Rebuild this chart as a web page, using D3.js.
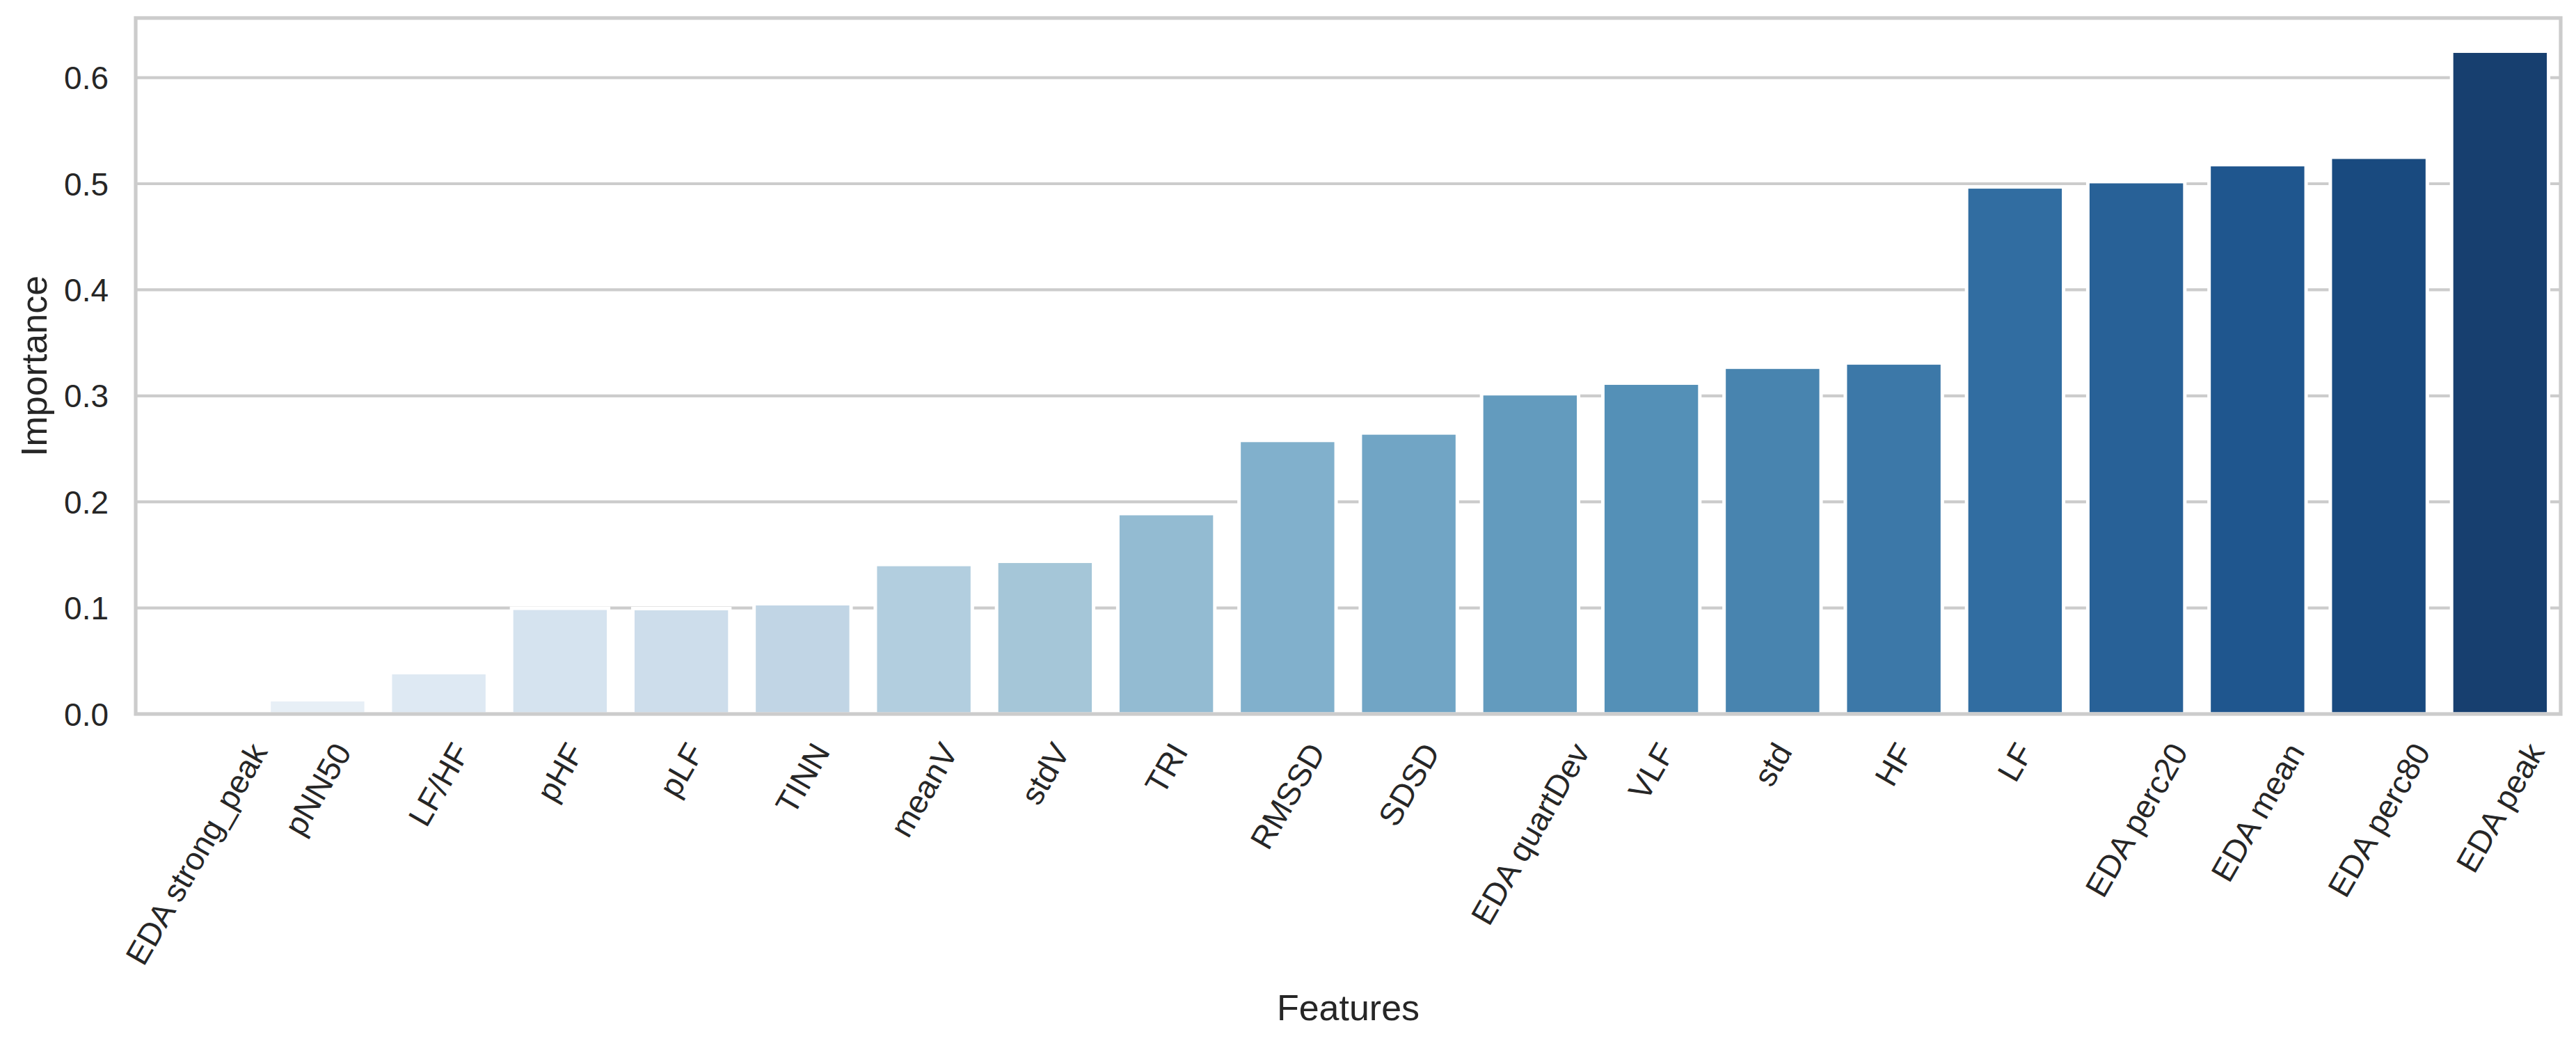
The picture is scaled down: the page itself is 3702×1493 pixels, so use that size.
<!DOCTYPE html>
<html>
<head>
<meta charset="utf-8">
<script src="https://cdn.jsdelivr.net/npm/d3@7"></script>
<style>
  html, body { margin: 0; padding: 0; background: #fff; }
  svg { display: block; }
  text { font-family: Arial, "Liberation Sans", sans-serif; fill: #262626; }
</style>
</head>
<body>
<svg id="chart" width="3702" height="1493"></svg>
<script>
// feature importances, sorted ascending
const features = [
  "EDA strong_peak", "pNN50", "LF/HF", "pHF", "pLF", "TINN", "meanV", "stdV",
  "TRI", "RMSSD", "SDSD", "EDA quartDev", "VLF", "std", "HF", "LF",
  "EDA perc20", "EDA mean", "EDA perc80", "EDA peak"
];
const importance = [
  0.0, 0.0135, 0.039, 0.0997, 0.0994, 0.104, 0.141, 0.144,
  0.189, 0.258, 0.265, 0.302, 0.312, 0.327, 0.331, 0.497,
  0.502, 0.518, 0.525, 0.625
];
const yTicks = [0, 0.1, 0.2, 0.3, 0.4, 0.5, 0.6];

const xTitle = "Features";
const yTitle = "Importance";

const data = features.map((f, i) => ({ feature: f, value: importance[i] }));

const svg = d3.select("#chart");
const margin = { top: 25.9, right: 22, bottom: 467, left: 195 };
const width = +svg.attr("width");
const height = +svg.attr("height");
const x0 = margin.left, x1 = width - margin.right;
const y0 = height - margin.bottom, y1 = margin.top;

const x = d3.scaleBand()
  .domain(features)
  .range([x0, x1])
  .paddingInner(0.2)
  .paddingOuter(0.1);

// matplotlib-style 5% headroom above the tallest bar
const y = d3.scaleLinear()
  .domain([0, d3.max(importance) * 1.05])
  .range([y0, y1]);

// seaborn "Blues" palette, desaturated to 0.75 like barplot does
const bluesStops = ["#f7fbff", "#deebf7", "#c6dbef", "#9ecae1", "#6baed6",
  "#4292c6", "#2171b5", "#08519c", "#08306b"];
const blues = d3.scaleLinear()
  .domain(d3.range(bluesStops.length).map(i => i / (bluesStops.length - 1)))
  .range(bluesStops)
  .interpolate(d3.interpolateRgb);
const colorFor = i => {
  const c = d3.hsl(blues((i + 1) / (features.length + 1)));
  c.s *= 0.75;
  return c.formatHex();
};

// grid
svg.append("g")
  .attr("id", "grid")
  .selectAll("line")
  .data(yTicks)
  .join("line")
  .attr("x1", x0)
  .attr("x2", x1)
  .attr("y1", d => y(d))
  .attr("y2", d => y(d))
  .attr("stroke", "#cccccc")
  .attr("stroke-width", 4.2);

// bars
svg.append("g")
  .attr("id", "bars")
  .selectAll("rect")
  .data(data)
  .join("rect")
  .attr("x", d => x(d.feature))
  .attr("width", x.bandwidth())
  .attr("y", d => y(d.value))
  .attr("height", d => y(0) - y(d.value))
  .attr("fill", (d, i) => colorFor(i))
  .attr("stroke", "#ffffff")
  .attr("stroke-width", 5);

// frame
svg.append("rect")
  .attr("x", x0)
  .attr("y", y1)
  .attr("width", x1 - x0)
  .attr("height", y0 - y1)
  .attr("fill", "none")
  .attr("stroke", "#cccccc")
  .attr("stroke-width", 5.2);

// y tick labels
svg.append("g")
  .attr("id", "axis-y")
  .selectAll("text")
  .data(yTicks)
  .join("text")
  .attr("x", x0 - 39)
  .attr("y", d => y(d))
  .attr("dy", "0.36em")
  .attr("text-anchor", "end")
  .attr("font-size", 46)
  .text(d => d3.format(".1f")(d));

// x tick labels, rotated 60deg, bbox centred under each bar
const xLabels = svg.append("g")
  .attr("id", "axis-x")
  .selectAll("text")
  .data(features)
  .join("text")
  .attr("text-anchor", "end")
  .attr("font-size", 46)
  .text(d => d);

xLabels.each(function (d) {
  const len = this.getComputedTextLength();
  const px = x(d) + x.bandwidth() / 2 + len / 4 + 14;
  const py = 1080;
  d3.select(this).attr("transform", `translate(${px},${py}) rotate(-60)`);
});

// axis titles
svg.append("text")
  .attr("x", (x0 + x1) / 2)
  .attr("y", 1466)
  .attr("text-anchor", "middle")
  .attr("font-size", 52)
  .text(xTitle);

svg.append("text")
  .attr("transform", `translate(67,${(y0 + y1) / 2}) rotate(-90)`)
  .attr("text-anchor", "middle")
  .attr("font-size", 52)
  .text(yTitle);
</script>
</body>
</html>
